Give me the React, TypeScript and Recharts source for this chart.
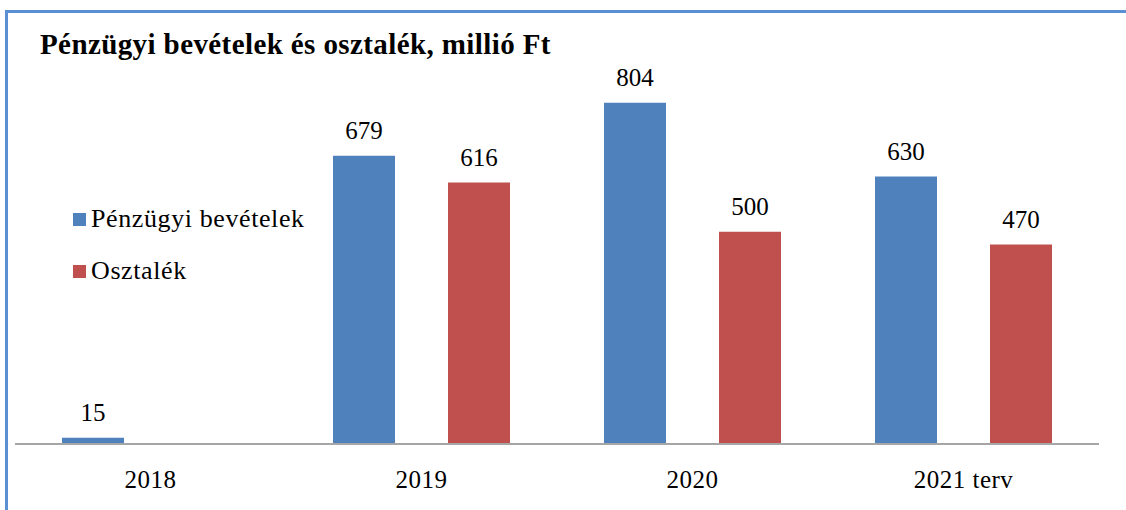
import { BarChart, Bar, XAxis, YAxis, Legend, LabelList } from 'recharts';

const years = ['2018', '2019', '2020', '2021 terv'];
const bevetelek = [15, 679, 804, 630];
const osztalek: (number | null)[] = [null, 616, 500, 470];

const seriesNames = ['Pénzügyi bevételek', 'Osztalék'];
const colors = ['#4F81BD', '#C0504D'];

const data = years.map((year, i) => ({
  year,
  bevetelek: bevetelek[i],
  osztalek: osztalek[i],
}));

const FONT = '"Liberation Serif", "Times New Roman", serif';

function YearTick({ x, y, payload }: any) {
  return (
    <text x={x} y={y + 36} textAnchor="middle" style={{ fontFamily: FONT, fontSize: 25, letterSpacing: 0.5 }} fill="#000">
      {payload.value}
    </text>
  );
}

function ValueLabel({ x, y, width, value }: any) {
  if (value == null) return null;
  return (
    <text x={x + width / 2} y={y - 17} textAnchor="middle" style={{ fontFamily: FONT, fontSize: 25 }} fill="#000">
      {value}
    </text>
  );
}

function LegendBox() {
  return (
    <div style={{ fontFamily: FONT, fontSize: 26, color: '#000', letterSpacing: 0.6 }}>
      {seriesNames.map((name, i) => (
        <div key={name} style={{ display: 'flex', alignItems: 'center', height: 52 }}>
          <span style={{ width: 13, height: 13, background: colors[i], marginRight: 5, display: 'inline-block' }} />
          <span>{name}</span>
        </div>
      ))}
    </div>
  );
}

export default function App() {
  return (
    <div
      style={{
        position: 'absolute',
        left: 0,
        top: 0,
        width: 1126,
        height: 510,
        background: '#fff',
        overflow: 'hidden',
        fontFamily: FONT,
      }}
    >
      <div
        style={{
          position: 'absolute',
          left: 5,
          top: 10,
          width: 1200,
          height: 600,
          borderTop: '3px solid #5B8FD3',
          borderLeft: '3px solid #5B8FD3',
        }}
      />
      <div
        style={{
          position: 'absolute',
          left: 40,
          top: 28,
          fontWeight: 'bold',
          fontSize: 29,
          letterSpacing: 0.4,
          color: '#000',
          whiteSpace: 'nowrap',
        }}
      >
        Pénzügyi bevételek és osztalék, millió Ft
      </div>
      <div style={{ position: 'absolute', left: 0, top: 0 }}>
        <BarChart
          width={1126}
          height={510}
          data={data}
          margin={{ top: 62, right: 27, left: 15, bottom: 26 }}
          barSize={62}
          barGap={53}
          barCategoryGap={47}
        >
          <XAxis
            dataKey="year"
            axisLine={{ stroke: '#A6A6A6', strokeWidth: 2 }}
            tickLine={false}
            tick={<YearTick />}
            height={40}
            interval={0}
          />
          <YAxis hide domain={[0, 900]} />
          <Legend
            layout="vertical"
            verticalAlign="middle"
            align="center"
            content={<LegendBox />}
            wrapperStyle={{ position: 'absolute', left: 73, top: 193, width: 260, height: 110 }}
          />
          <Bar dataKey="bevetelek" name={seriesNames[0]} fill={colors[0]} isAnimationActive={false}>
            <LabelList dataKey="bevetelek" content={<ValueLabel />} />
          </Bar>
          <Bar dataKey="osztalek" name={seriesNames[1]} fill={colors[1]} isAnimationActive={false}>
            <LabelList dataKey="osztalek" content={<ValueLabel />} />
          </Bar>
        </BarChart>
      </div>
    </div>
  );
}
